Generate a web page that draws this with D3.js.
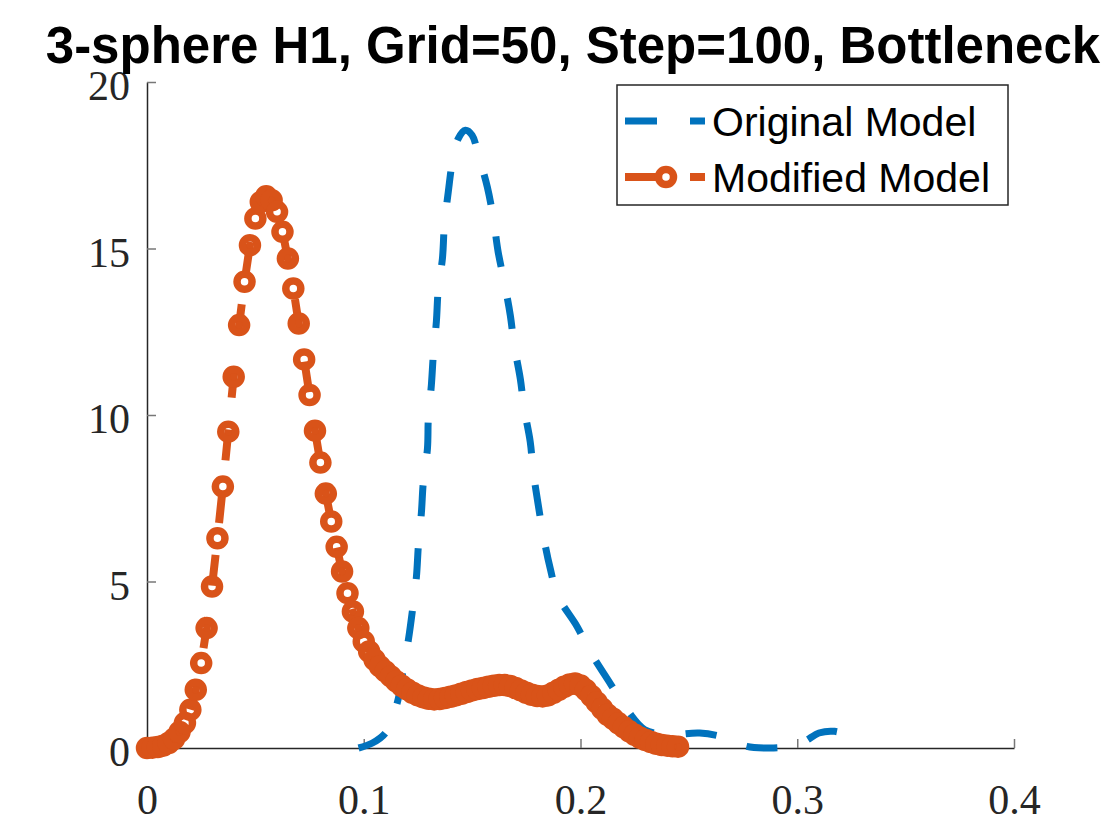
<!DOCTYPE html>
<html>
<head>
<meta charset="utf-8">
<script src="https://cdn.jsdelivr.net/npm/d3@7"></script>
<style>
    body { margin: 0; background: #fff; }
</style>
</head>
<body>
<div id="chart"></div>
<script>

var titleText = "3-sphere H1, Grid=50, Step=100, Bottleneck";
var seriesNames = ["Original Model", "Modified Model"];

var xTicks = [0, 0.1, 0.2, 0.3, 0.4];
var yTicks = [0, 5, 10, 15, 20];

// Original Model (blue dashed)
var originalX = [0.0976, 0.104, 0.110, 0.1137, 0.116, 0.1183, 0.1206, 0.1225, 0.1243, 0.1252,
    0.1266, 0.1275, 0.1294, 0.1298, 0.1312, 0.1321, 0.1335, 0.1344, 0.1363, 0.1372,
    0.139, 0.1409, 0.1436, 0.1469, 0.150, 0.1529, 0.157, 0.1598, 0.162, 0.1648,
    0.1676, 0.1694, 0.1722, 0.174, 0.1768, 0.1782, 0.1805, 0.1828, 0.186, 0.1897,
    0.1984, 0.2044, 0.2136, 0.222, 0.2297, 0.2413, 0.255, 0.2675, 0.2767, 0.2873,
    0.2965, 0.3034, 0.310, 0.3172, 0.324, 0.3297];
var originalY = [0, 0.15, 0.45, 1.0, 1.5, 2.4, 3.25, 4.15, 5.14, 6.07,
    7.07, 8.0, 9.0, 9.9, 10.9, 11.8, 12.8, 13.8, 14.7, 15.7,
    16.7, 17.6, 18.3, 18.55, 18.4, 17.8, 16.85, 15.9, 14.9, 14.0,
    13.0, 12.1, 11.1, 10.2, 9.2, 8.3, 7.3, 6.4, 5.4, 4.55,
    3.65, 2.9, 1.95, 1.1, 0.55, 0.4, 0.45, 0.3, 0.05, 0.0,
    0.05, 0.2, 0.45, 0.5, 0.35, 0.1];

// Modified Model (orange, dashed with circles)
var modifiedX = [0, 0.0025, 0.005, 0.0075, 0.01, 0.0125, 0.015, 0.0175, 0.02, 0.0225,
    0.025, 0.0275, 0.03, 0.0325, 0.035, 0.0375, 0.04, 0.0425, 0.045, 0.0475,
    0.05, 0.0525, 0.055, 0.0575, 0.06, 0.0625, 0.065, 0.0675, 0.07, 0.0725,
    0.075, 0.0775, 0.08, 0.0825, 0.085, 0.0875, 0.09, 0.0925, 0.095, 0.0975,
    0.1, 0.1025, 0.105, 0.1075, 0.11, 0.1125, 0.115, 0.1175, 0.12, 0.1225,
    0.125, 0.1275, 0.13, 0.1325, 0.135, 0.1375, 0.14, 0.1425, 0.145, 0.1475,
    0.15, 0.1525, 0.155, 0.1575, 0.16, 0.1625, 0.165, 0.1675, 0.17, 0.1725,
    0.175, 0.1775, 0.18, 0.1825, 0.185, 0.1875, 0.19, 0.1925, 0.195, 0.1975,
    0.2, 0.2025, 0.205, 0.2075, 0.21, 0.2125, 0.215, 0.2175, 0.22, 0.2225,
    0.225, 0.2275, 0.23, 0.2325, 0.235, 0.2375, 0.24, 0.2425, 0.245];
var modifiedY = [0, 0.01, 0.03, 0.07, 0.15, 0.28, 0.48, 0.75, 1.15, 1.75,
    2.55, 3.6, 4.85, 6.3, 7.85, 9.5, 11.15, 12.7, 14.0, 15.1,
    15.9, 16.4, 16.57, 16.45, 16.1, 15.5, 14.7, 13.8, 12.75, 11.67,
    10.6, 9.53, 8.57, 7.64, 6.8, 6.04, 5.3, 4.65, 4.1, 3.6,
    3.2, 2.9, 2.65, 2.45, 2.3, 2.15, 2.0, 1.87, 1.76, 1.66,
    1.58, 1.52, 1.48, 1.46, 1.47, 1.5, 1.54, 1.58, 1.63, 1.68,
    1.73, 1.77, 1.8, 1.84, 1.87, 1.89, 1.89, 1.86, 1.8, 1.73,
    1.66, 1.6, 1.56, 1.55, 1.58, 1.66, 1.75, 1.84, 1.91, 1.94,
    1.88, 1.74, 1.56, 1.37, 1.18, 1.0, 0.88, 0.74, 0.62, 0.5,
    0.4, 0.31, 0.24, 0.18, 0.13, 0.09, 0.07, 0.05, 0.04];

var colors = ["#0072BD", "#D95319"];

function Chart(element, width, height) {

    var chart = {

        width: width,
        height: height,

        margin: { top: 82, bottom: 92, left: 147, right: 106 },

        svg: null,
        x: null,
        y: null,

        scale: function () {

            this.x = d3.scaleLinear()
                .domain([0, 0.4])
                .range([this.margin.left, this.width - this.margin.right]);

            this.y = d3.scaleLinear()
                .domain([0, 20])
                .range([this.height - this.margin.bottom, this.margin.top]);
        },

        build: function () {

            this.svg = d3.select(element)
                .append("svg")
                .attr("width", this.width)
                .attr("height", this.height);

            this.scale();
            this.axis();
            this.series();
            this.legend();
            this.header(titleText);
        },

        axis: function () {

            var bottom = this.height - this.margin.bottom;

            var xAxis = d3.axisBottom(this.x)
                .tickValues(xTicks)
                .tickSize(-9)
                .tickSizeOuter(0)
                .tickPadding(36)
                .tickFormat(d3.format("~g"));

            var gx = this.svg.append("g")
                .attr("transform", "translate(0," + bottom + ")")
                .call(xAxis);

            var yAxis = d3.axisLeft(this.y)
                .tickValues(yTicks)
                .tickSize(-9)
                .tickSizeOuter(0)
                .tickPadding(17);

            var gy = this.svg.append("g")
                .attr("transform", "translate(" + this.margin.left + ",0)")
                .call(yAxis);

            [gx, gy].forEach(function (g) {
                g.select(".domain").attr("stroke", "#262626").attr("stroke-width", 1.5);
                g.selectAll(".tick line").attr("stroke", "#777").attr("stroke-width", 1.5);
                g.selectAll(".tick text")
                    .attr("fill", "#262626")
                    .attr("font-family", "'Liberation Serif', 'DejaVu Serif', serif")
                    .attr("font-size", "42px");
            });

            gy.selectAll(".tick text").attr("dy", "0.42em");
        },

        series: function () {

            var that = this;

            var original = originalX.map(function (d, i) { return [d, originalY[i]]; });
            var modified = modifiedX.map(function (d, i) { return [d, modifiedY[i]]; });

            var line = d3.line()
                .x(function (d) { return that.x(d[0]); })
                .y(function (d) { return that.y(d[1]); });

            this.svg.append("path")
                .datum(original)
                .attr("fill", "none")
                .attr("stroke", colors[0])
                .attr("stroke-width", 7)
                .attr("stroke-dasharray", "31,32")
                .attr("d", line.curve(d3.curveCatmullRom));

            this.svg.append("path")
                .datum(modified)
                .attr("fill", "none")
                .attr("stroke", colors[1])
                .attr("stroke-width", 8)
                .attr("stroke-dasharray", "31,32")
                .attr("d", line.curve(d3.curveLinear));

            this.svg.append("g")
                .selectAll("circle")
                .data(modified)
                .enter().append("circle")
                .attr("cx", function (d) { return that.x(d[0]); })
                .attr("cy", function (d) { return that.y(d[1]); })
                .attr("r", 7.5)
                .attr("fill", "none")
                .attr("stroke", colors[1])
                .attr("stroke-width", 7.5);
        },

        legend: function () {

            var box = { x: 617, y: 85, w: 391, h: 120 };
            var rows = [121, 177];

            var g = this.svg.append("g");

            g.append("rect")
                .attr("x", box.x)
                .attr("y", box.y)
                .attr("width", box.w)
                .attr("height", box.h)
                .attr("fill", "#fff")
                .attr("stroke", "#262626")
                .attr("stroke-width", 1.5);

            seriesNames.forEach(function (name, i) {

                g.append("line")
                    .attr("x1", 625)
                    .attr("x2", 705)
                    .attr("y1", rows[i])
                    .attr("y2", rows[i])
                    .attr("stroke", colors[i])
                    .attr("stroke-width", i == 0 ? 7 : 8)
                    .attr("stroke-dasharray", "32,33");

                if (i == 1) {
                    g.append("circle")
                        .attr("cx", 666)
                        .attr("cy", rows[i])
                        .attr("r", 7.5)
                        .attr("fill", "none")
                        .attr("stroke", colors[i])
                        .attr("stroke-width", 7.5);
                }

                g.append("text")
                    .attr("x", 712)
                    .attr("y", rows[i])
                    .attr("dy", "0.36em")
                    .attr("font-family", "'Liberation Sans', Arial, sans-serif")
                    .attr("font-size", "41px")
                    .attr("fill", "#000")
                    .text(name);
            });
        },

        header: function (text) {

            this.svg.append("text")
                .attr("x", 573)
                .attr("y", 63)
                .attr("text-anchor", "middle")
                .attr("font-family", "'Liberation Sans', Arial, sans-serif")
                .attr("font-weight", 700)
                .attr("font-size", "51px")
                .attr("fill", "#000")
                .text(text);
        }
    };

    return chart;
}

var chart = Chart("#chart", 1120, 840);
chart.build();

</script>
</body>
</html>
